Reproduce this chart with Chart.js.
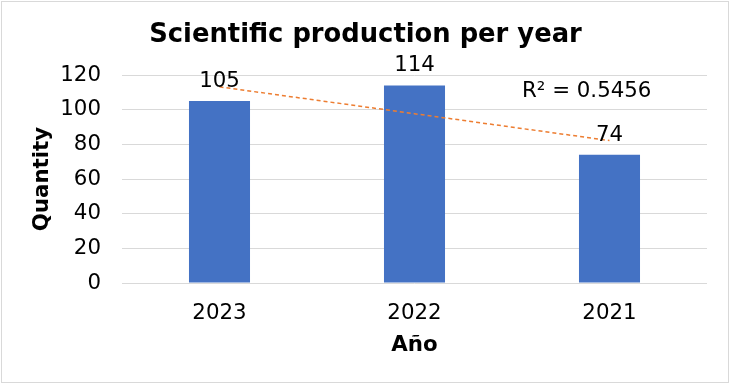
<!DOCTYPE html>
<html>
<head>
<meta charset="utf-8">
<script src="https://cdn.jsdelivr.net/npm/chart.js@4/dist/chart.umd.min.js"></script>
<style>
  body { margin: 0; background: #fff; }
</style>
</head>
<body>
<canvas id="myChart" width="731" height="384"></canvas>
<script>
// data
const years = ["2023", "2022", "2021"]
const quantity = [105, 114, 74]
const trendValues = [113.2, 97.7, 82.2]   // linear trendline as drawn
const rSquaredText = "R\u00b2 = 0.5456"

const fontName = "'DejaVu Sans', Verdana, sans-serif"

// value labels above bars, R² text and the frame
const extras = {
  id: 'extras',
  beforeDraw(chart) {
    const c = chart.ctx
    c.save()
    c.fillStyle = '#fff'
    c.fillRect(0, 0, chart.width, chart.height)
    c.strokeStyle = '#d9d9d9'
    c.lineWidth = 1
    c.strokeRect(1.5, 1.5, 727, 381)
    c.restore()
  },
  afterDatasetsDraw(chart) {
    const c = chart.ctx
    const meta = chart.getDatasetMeta(0)
    c.save()
    c.font = '21.33px ' + fontName
    c.fillStyle = '#000'
    c.textAlign = 'center'
    c.textBaseline = 'alphabetic'
    meta.data.forEach((bar, i) => {
      c.fillText(quantity[i], bar.x, bar.y - 14)
    })
    c.textAlign = 'left'
    c.fillText(rSquaredText, chart.chartArea.right - 185, chart.scales.y.getPixelForValue(107.5))
    c.restore()
  }
}

new Chart(document.getElementById('myChart'), {
  type: 'bar',
  data: {
    labels: years,
    datasets: [{
      label: 'Quantity',
      data: quantity,
      backgroundColor: '#4472C4',
      barPercentage: 0.313,
      categoryPercentage: 1,
      order: 2
    }, {
      type: 'line',
      label: 'Trend',
      data: trendValues,
      borderColor: '#ED7D31',
      borderWidth: 1.5,
      borderDash: [4, 3],
      pointRadius: 0,
      fill: false,
      order: 1
    }]
  },
  options: {
    responsive: false,
    animation: false,
    devicePixelRatio: 1,
    layout: { padding: { left: 24, right: 24, top: 0, bottom: 0 } },
    plugins: {
      legend: { display: false },
      tooltip: { enabled: false },
      title: {
        display: true,
        text: 'Scientific production per year',
        color: '#000',
        font: { family: fontName, size: 25.8, weight: 'bold' },
        padding: { top: 20, bottom: 24.1 }
      }
    },
    scales: {
      x: {
        grid: { display: false },
        border: { display: false },
        ticks: { color: '#000', font: { family: fontName, size: 21.33 }, padding: 10 },
        title: {
          display: true,
          text: 'Año',
          color: '#000',
          font: { family: fontName, size: 21.33, weight: 'bold' },
          padding: { top: 0, bottom: 26 }
        },
        afterFit(scale) { scale.height = 101 }
      },
      y: {
        min: 0,
        max: 120,
        ticks: { stepSize: 20, color: '#000', font: { family: fontName, size: 21.33 }, padding: 21 },
        grid: { color: '#d9d9d9', drawTicks: false },
        border: { display: false },
        title: {
          display: true,
          text: 'Quantity',
          color: '#000',
          font: { family: fontName, size: 21.33, weight: 'bold' },
          padding: { top: 6, bottom: 0 }
        },
        afterFit(scale) { scale.width = 98 }
      }
    }
  },
  plugins: [extras]
})
</script>
</body>
</html>
